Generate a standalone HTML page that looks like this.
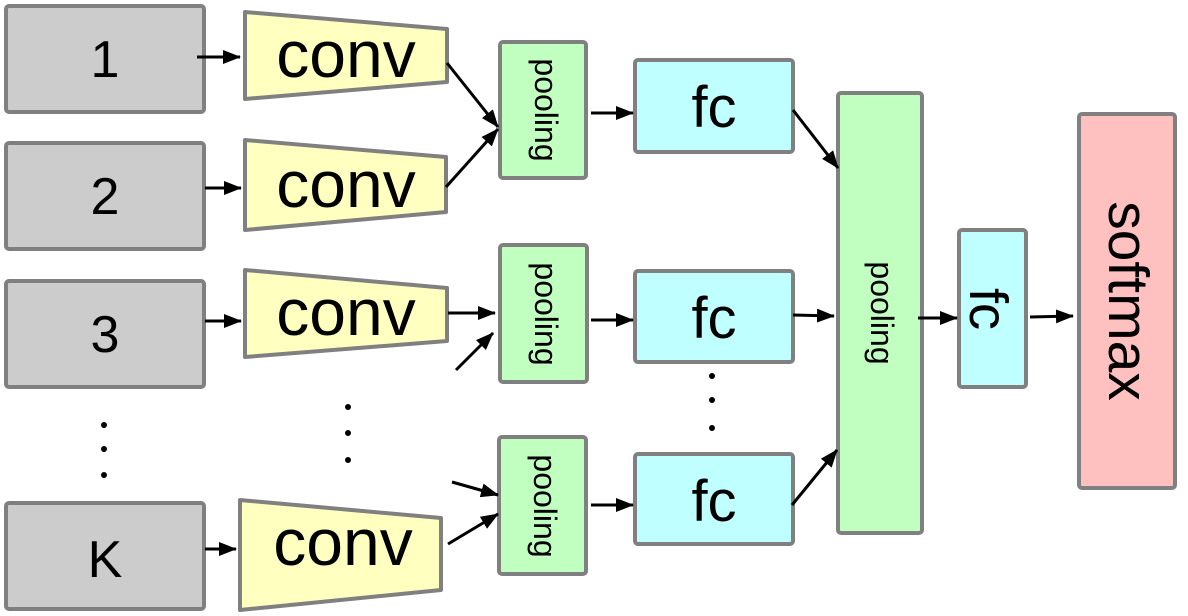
<!DOCTYPE html>
<html><head><style>body{margin:0;background:#fff}svg{display:block}</style></head><body>
<svg width="1188" height="616" viewBox="0 0 1188 616" xmlns="http://www.w3.org/2000/svg" font-family="Liberation Sans, sans-serif">
<defs><marker id="a" markerWidth="18" markerHeight="14" refX="17" refY="7" orient="auto" markerUnits="userSpaceOnUse"><path d="M0,0 L18,7 L0,14 z" fill="#000"/></marker></defs>
<g stroke="#808080" stroke-width="4" stroke-linejoin="round">
<rect x="6" y="6" width="198" height="106" rx="3" fill="#cccccc"/>
<rect x="6" y="143" width="198" height="106" rx="3" fill="#cccccc"/>
<rect x="6" y="281" width="198" height="106" rx="3" fill="#cccccc"/>
<rect x="6" y="503" width="198" height="106" rx="3" fill="#cccccc"/>
<polygon points="245,12 447,29 447,82 245,99" fill="#ffffc0"/>
<polygon points="245,140 446,157 446,212 245,230" fill="#ffffc0"/>
<polygon points="245,270 447,288 447,341 245,357" fill="#ffffc0"/>
<polygon points="240,500 441,518 441,590 240,610" fill="#ffffc0"/>
<rect x="500" y="42" width="86" height="136" rx="3" fill="#c0ffc0"/>
<rect x="500" y="245" width="87" height="137" rx="3" fill="#c0ffc0"/>
<rect x="499" y="437" width="87" height="137" rx="3" fill="#c0ffc0"/>
<rect x="635" y="60" width="158" height="92" rx="3" fill="#c0ffff"/>
<rect x="635" y="271" width="158" height="91" rx="3" fill="#c0ffff"/>
<rect x="635" y="454" width="158" height="90" rx="3" fill="#c0ffff"/>
<rect x="838" y="93" width="84" height="440" rx="3" fill="#c0ffc0"/>
<rect x="959" y="230" width="67" height="157" rx="3" fill="#c0ffff"/>
<rect x="1079" y="114" width="96" height="374" rx="3" fill="#ffc0c0"/>
</g>
<g stroke="#000" stroke-width="3" marker-end="url(#a)" fill="none">
<line x1="197" y1="57" x2="240" y2="57"/>
<line x1="205" y1="188" x2="241" y2="188"/>
<line x1="205" y1="321" x2="241" y2="321"/>
<line x1="205" y1="549" x2="236" y2="549"/>
<line x1="447" y1="63" x2="498" y2="127"/>
<line x1="446" y1="187" x2="498" y2="129"/>
<line x1="448" y1="313" x2="495" y2="313"/>
<line x1="456" y1="370" x2="493" y2="333"/>
<line x1="452" y1="482" x2="498" y2="495"/>
<line x1="448" y1="544" x2="498" y2="514"/>
<line x1="591" y1="113" x2="633" y2="113"/>
<line x1="591" y1="320" x2="633" y2="320"/>
<line x1="591" y1="505" x2="633" y2="505"/>
<line x1="793" y1="110" x2="838" y2="168"/>
<line x1="793" y1="315" x2="834" y2="316"/>
<line x1="792" y1="505" x2="837" y2="450"/>
<line x1="918" y1="318" x2="957" y2="318"/>
<line x1="1030" y1="317" x2="1073" y2="316"/>
</g>
<g fill="#000">
<circle cx="104" cy="425" r="3"/><circle cx="104" cy="449" r="3"/><circle cx="104" cy="475" r="3"/>
<circle cx="348" cy="407" r="3"/><circle cx="348" cy="433" r="3"/><circle cx="348" cy="460" r="3"/>
<circle cx="712" cy="376" r="3"/><circle cx="712" cy="400" r="3"/><circle cx="712" cy="428" r="3"/>
</g>
<g text-anchor="middle" fill="#000">
<text x="105" y="77" font-size="52">1</text>
<text x="105" y="214" font-size="52">2</text>
<text x="105" y="352" font-size="52">3</text>
<text x="105" y="577" font-size="52">K</text>
<text x="346" y="77" font-size="66">conv</text>
<text x="346" y="207" font-size="66">conv</text>
<text x="346" y="335" font-size="66">conv</text>
<text x="343" y="565" font-size="66">conv</text>
<text x="714" y="127" font-size="58">fc</text>
<text x="714" y="338" font-size="58">fc</text>
<text x="714" y="521" font-size="58">fc</text>
<text transform="translate(535,110) rotate(90)" font-size="32">pooling</text>
<text transform="translate(535,314) rotate(90)" font-size="32">pooling</text>
<text transform="translate(534,506) rotate(90)" font-size="32">pooling</text>
<text transform="translate(871,313) rotate(90)" font-size="32">pooling</text>
<text transform="translate(970,309) rotate(90)" font-size="54">fc</text>
<text transform="translate(1109,301) rotate(90)" font-size="57">softmax</text>
</g>
</svg>
</body></html>
